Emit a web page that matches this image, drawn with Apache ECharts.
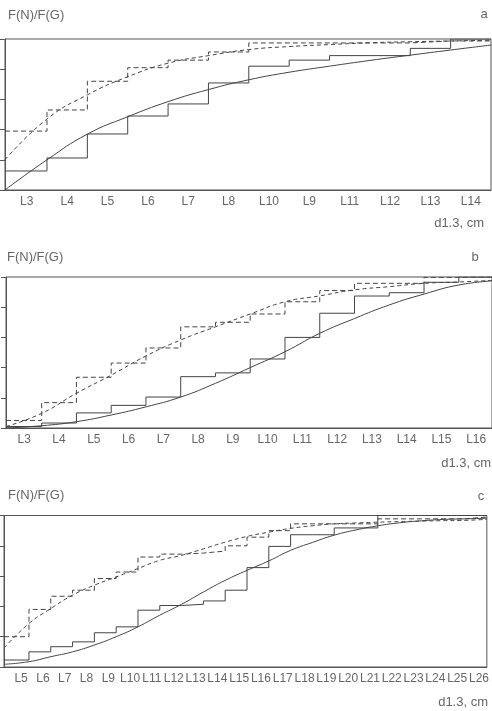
<!DOCTYPE html>
<html><head><meta charset="utf-8">
<script src="https://cdn.jsdelivr.net/npm/echarts@6/dist/echarts.min.js"></script>
<style>html,body{margin:0;padding:0;background:#fff}#c{width:492px;height:711px}</style>
</head><body><div id="c"></div><script>
// ---------- Panel a ----------
const catsA = ['L3','L4','L5','L6','L7','L8','L10','L9','L11','L12','L13','L14'];
const stepSolidA = [0.126, 0.212, 0.371, 0.49, 0.57, 0.709, 0.82, 0.86, 0.89, 0.89, 0.938, 1.0];
const stepDashA  = [0.39, 0.53, 0.72, 0.81, 0.86, 0.914, 0.974, 0.974, 0.974, 0.974, 0.987, 0.987];
const curveSolidA = [0.0, 0.2, 0.37, 0.485, 0.585, 0.665, 0.73, 0.78, 0.82, 0.858, 0.893, 0.927, 0.96];
const curveDashA  = [0.2, 0.47, 0.63, 0.75, 0.84, 0.89, 0.93, 0.95, 0.963, 0.975, 0.982, 0.987, 0.992];
// ---------- Panel b ----------
const catsB = ['L3','L4','L5','L6','L7','L8','L9','L10','L11','L12','L13','L14','L15','L16'];
const stepSolidB = [0.01, 0.033, 0.1, 0.15, 0.205, 0.34, 0.365, 0.457, 0.6, 0.76, 0.874, 0.896, 0.965, 1.0];
const stepDashB  = [0.05, 0.168, 0.336, 0.43, 0.53, 0.67, 0.70, 0.755, 0.836, 0.91, 0.958, 0.958, 0.998, 1.0];
const curveSolidB = [0.0, 0.015, 0.042, 0.086, 0.14, 0.205, 0.296, 0.40, 0.505, 0.627, 0.725, 0.815, 0.887, 0.947, 0.975];
const curveDashB  = [0.01, 0.097, 0.23, 0.35, 0.477, 0.583, 0.67, 0.755, 0.836, 0.875, 0.915, 0.936, 0.958, 0.967, 0.978];
// ---------- Panel c ----------
const catsC = ['L5','L6','L7','L8','L9','L10','L11','L12','L13','L14','L15','L16','L17','L18','L19','L20','L21','L22','L23','L24','L25','L26'];
const stepSolidC = [0.046, 0.10, 0.134, 0.166, 0.226, 0.265, 0.375, 0.406, 0.414, 0.436, 0.507, 0.656, 0.796, 0.873, 0.873, 0.918, 0.918, 1.0, 1.0, 1.0, 1.0, 1.0];
const stepDashC  = [0.20, 0.38, 0.467, 0.507, 0.584, 0.627, 0.726, 0.745, 0.752, 0.765, 0.80, 0.857, 0.90, 0.945, 0.945, 0.945, 0.945, 0.978, 0.978, 0.978, 0.978, 0.99];
const curveSolidC = [0.018, 0.035, 0.068, 0.10, 0.145, 0.20, 0.265, 0.342, 0.414, 0.495, 0.572, 0.638, 0.70, 0.77, 0.822, 0.87, 0.905, 0.932, 0.952, 0.965, 0.974, 0.978, 0.982];
const curveDashC  = [0.125, 0.287, 0.386, 0.474, 0.54, 0.594, 0.65, 0.704, 0.737, 0.78, 0.824, 0.862, 0.89, 0.915, 0.932, 0.945, 0.951, 0.956, 0.96, 0.963, 0.966, 0.968, 0.975];

const yLabel = 'F(N)/F(G)';
const xLabel = 'd1.3, cm';
const panelNames = ['a','b','c'];

const FONT = 'Liberation Sans, Arial, sans-serif';
const LINE = '#444';
const AXIS = '#555';
const TEXT = '#666';

const panels = [
  {cats: catsA, sS: stepSolidA, sD: stepDashA, cS: curveSolidA, cD: curveDashA,
   grid: {left: 5, top: 39, width: 486, height: 151}, xmin: -0.04, xmax: 12.0, labShift: 0},
  {cats: catsB, sS: stepSolidB, sD: stepDashB, cS: curveSolidB, cD: curveDashB,
   grid: {left: 6, top: 277, width: 486, height: 151}, xmin: -0.026, xmax: 13.955, labShift: 0},
  {cats: catsC, sS: stepSolidC, sD: stepDashC, cS: curveSolidC, cD: curveDashC,
   grid: {left: 4, top: 515.5, width: 489.4, height: 151.5}, xmin: -0.145, xmax: 22.0, labShift: 0.14}
];

const grids = [], xAxes = [], yAxes = [], series = [];
panels.forEach((p, i) => {
  grids.push(Object.assign({show: true, borderColor: AXIS, borderWidth: 1, backgroundColor: 'transparent'}, p.grid));
  const cats = p.cats;
  xAxes.push({
    type: 'value', gridIndex: i, min: p.xmin, max: p.xmax,
    axisLine: {show: true, onZero: false, lineStyle: {color: AXIS}}, axisTick: {show: false}, splitLine: {show: false},
    axisLabel: {
      customValues: cats.map((c, k) => k + 0.5 + p.labShift),
      formatter: v => cats[Math.floor(v)] || '',
      color: TEXT, fontFamily: FONT, fontSize: 12, margin: 6, hideOverlap: false
    }
  });
  yAxes.push({
    type: 'value', gridIndex: i, min: 0, max: 1, interval: 0.2,
    axisLine: {show: true, onZero: false, lineStyle: {color: AXIS}},
    axisTick: {show: true, inside: false, length: 5, lineStyle: {color: AXIS}},
    axisLabel: {show: false}, splitLine: {show: false}
  });
  const stepData = vals => {
    const d = vals.map((v, k) => [k === 0 ? p.xmin : k, v]);
    d.push([vals.length, vals[vals.length - 1]]);
    return d;
  };
  const curveData = vals => vals.map((v, k) => [k === 0 ? p.xmin : k, v]);
  const base = {type: 'line', xAxisIndex: i, yAxisIndex: i, symbol: 'none', silent: true, animation: false};
  series.push(Object.assign({}, base, {data: stepData(p.sS), step: 'end', lineStyle: {color: LINE, width: 1}}));
  series.push(Object.assign({}, base, {data: stepData(p.sD), step: 'end', lineStyle: {color: LINE, width: 1, type: [5, 3]}}));
  series.push(Object.assign({}, base, {data: curveData(p.cS), smooth: 0.5, lineStyle: {color: LINE, width: 1}}));
  series.push(Object.assign({}, base, {data: curveData(p.cD), smooth: 0.5, lineStyle: {color: LINE, width: 1, type: [4, 3]}}));
});

function txt(s, x, y, align) {
  return {type: 'text', x: x, y: y, silent: true,
    style: {text: s, fill: TEXT, font: '13px ' + FONT, fontSize: 13, fontFamily: FONT,
      align: align, textAlign: align, verticalAlign: 'middle', textVerticalAlign: 'middle'}};
}
const graphic = [
  txt(yLabel, 8, 15, 'left'), txt(panelNames[0], 484, 14, 'center'), txt(xLabel, 484, 223, 'right'),
  txt(yLabel, 7, 257, 'left'), txt(panelNames[1], 475, 257, 'center'), txt(xLabel, 491, 463, 'right'),
  txt(yLabel, 8, 495.5, 'left'), txt(panelNames[2], 481, 496, 'center'), txt(xLabel, 488, 702, 'right')
];

const chart = echarts.init(document.getElementById('c'), null, {renderer: 'canvas'});
chart.setOption({animation: false, grid: grids, xAxis: xAxes, yAxis: yAxes, series: series, graphic: graphic});
</script></body></html>
